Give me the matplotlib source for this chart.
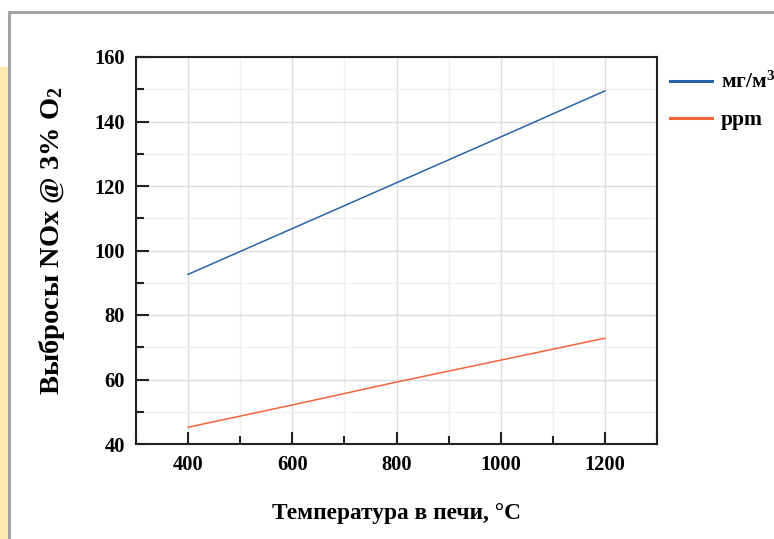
import matplotlib
matplotlib.use("Agg")
import matplotlib.pyplot as plt
from matplotlib.lines import Line2D
from matplotlib.patches import Rectangle
from matplotlib.ticker import MultipleLocator

temp = [400, 600, 800, 1000, 1200]
nox_mg = [92.6, 106.8, 121.0, 135.2, 149.5]
nox_ppm = [45.2, 52.1, 59.2, 66.0, 72.8]

plt.rcParams["font.family"] = ["Liberation Serif", "DejaVu Serif"]
plt.rcParams["font.weight"] = "bold"
plt.rcParams["mathtext.fontset"] = "custom"
plt.rcParams["mathtext.rm"] = "Liberation Serif:bold"
plt.rcParams["mathtext.bf"] = "Liberation Serif:bold"
plt.rcParams["mathtext.it"] = "Liberation Serif:bold"

W, H = 774, 539
fig = plt.figure(figsize=(W / 100, H / 100), dpi=100)

# screenshot frame around the chart
fig.patches.append(Rectangle((0, 0), 8 / W, 1 - 67 / H, transform=fig.transFigure,
                             facecolor="#fde9ad", edgecolor="none", zorder=0))
fig.lines.append(Line2D([9 / W, 1], [1 - 12 / H, 1 - 12 / H], transform=fig.transFigure,
                        color="#a3a3a3", lw=2.2))
fig.lines.append(Line2D([9 / W, 9 / W], [0, 1 - 12 / H], transform=fig.transFigure,
                        color="#a3a3a3", lw=2.2))

ax = fig.add_axes([136 / W, 1 - 444 / H, (657 - 136) / W, (444 - 57) / H])

ax.plot(temp, nox_mg, color="#2a64a6", lw=1.1, label="мг/м$^3$")
ax.plot(temp, nox_ppm, color="#f4643c", lw=1.1, label="ppm")

ax.set_xlim(300, 1300)
ax.set_ylim(40, 160)
ax.xaxis.set_major_locator(MultipleLocator(200))
ax.xaxis.set_minor_locator(MultipleLocator(100))
ax.yaxis.set_major_locator(MultipleLocator(20))
ax.yaxis.set_minor_locator(MultipleLocator(10))

ax.grid(which="major", color="#dcdcdc", lw=1.0)
ax.grid(which="minor", color="#efefef", lw=0.9)
ax.set_axisbelow(True)

ax.tick_params(which="both", direction="in", top=False, right=False,
               labelsize=14.8, pad=8, color="#222222")
ax.tick_params(which="major", length=9, width=1.5)
ax.tick_params(which="minor", length=6, width=1.5)
for lbl in ax.get_xticklabels() + ax.get_yticklabels():
    lbl.set_fontweight("bold")
for s in ax.spines.values():
    s.set_linewidth(1.5)
    s.set_color("#222222")

ax.set_xlabel("Температура в печи, °C", fontsize=16.8, fontweight="bold", labelpad=20)
ax.set_ylabel("Выбросы NOx @ 3% O$_2$", fontsize=20.5, fontweight="bold")
ax.yaxis.set_label_coords(-0.132, 0.525)

leg = fig.legend(loc="upper left", bbox_to_anchor=(670 / W, 1 - 72 / H), frameon=False,
                 prop={"size": 15.5, "weight": "bold"}, borderpad=0, borderaxespad=0,
                 handlelength=1.95, handletextpad=0.4, labelspacing=0.8)
for h in leg.legend_handles:
    h.set_linewidth(2.2)

fig.savefig("out.png", dpi=100)
